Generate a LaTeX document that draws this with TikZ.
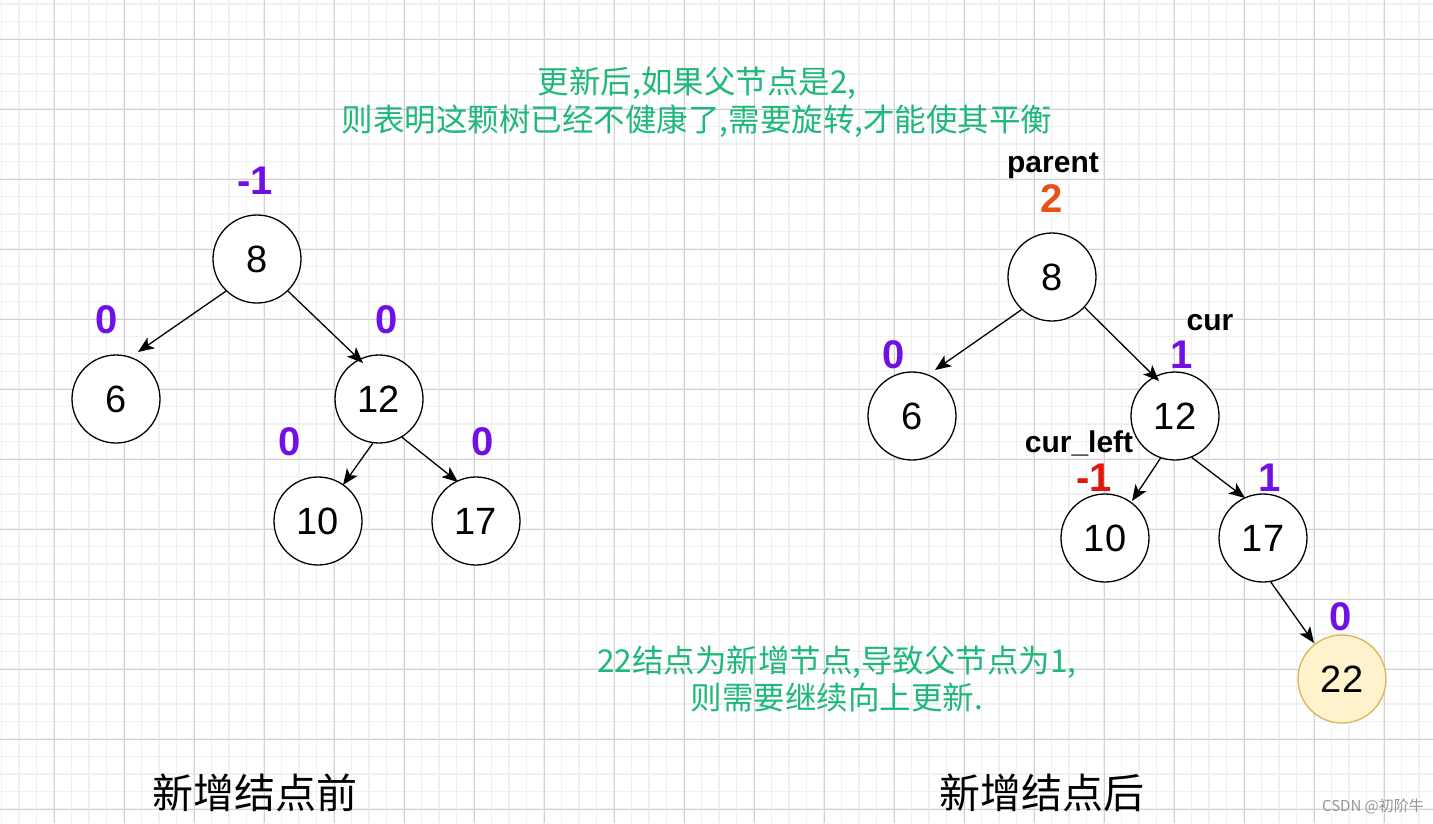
\documentclass[tikz,border=0pt]{standalone}
\usepackage{fontspec}
\setmainfont{Liberation Sans}
\newfontfamily\cjk{Noto Sans CJK SC}
\usetikzlibrary{arrows.meta}
\definecolor{lpurple}{RGB}{112,16,230}
\definecolor{lred}{RGB}{226,22,12}
\definecolor{lorange}{RGB}{230,82,22}
\definecolor{ngreen}{RGB}{30,184,122}
\definecolor{minorg}{RGB}{240,240,240}
\definecolor{majorg}{RGB}{210,210,210}
\definecolor{newfill}{RGB}{255,242,204}
\definecolor{newdraw}{RGB}{214,182,86}
\tikzset{
  tnode/.style={circle, draw, line width=1.3pt, fill=white, minimum size=88pt, inner sep=0pt, font=\fontsize{38}{44}\selectfont},
  arr/.style={line width=1.3pt, -{Stealth[length=16pt,width=13pt,inset=4pt]}},
  bal/.style={font=\fontsize{40}{46}\selectfont\bfseries, text=lpurple, inner sep=0pt},
  lab/.style={font=\fontsize{30}{36}\selectfont\bfseries, inner sep=0pt},
  note/.style={font=\cjk\fontsize{31.5}{38}\selectfont, text=ngreen, inner sep=0pt, anchor=base},
  ttl/.style={font=\cjk\fontsize{41}{48}\selectfont, inner sep=0pt, anchor=base},
  minorline/.style={draw=minorg, line width=1.2pt},
  majorline/.style={draw=majorg, line width=1pt}
}
\begin{document}
\begin{tikzpicture}[x=1pt,y=-1pt]
\path[use as bounding box, fill=white] (0,0) rectangle (1433,823);
\begin{scope}
\clip (0,0) rectangle (1433,823);
\foreach \i in {0,...,81} \draw[minorline] ({1.5+17.5*\i},0) -- ({1.5+17.5*\i},823);
\foreach \j in {0,...,46} \draw[minorline] (0,{4+17.5*\j}) -- (1433,{4+17.5*\j});
\foreach \i in {0,...,19} \draw[majorline] ({54+70*\i},0) -- ({54+70*\i},823);
\foreach \j in {0,...,11} \draw[majorline] (0,{39+70*\j}) -- (1433,{39+70*\j});
\end{scope}

% left tree
\node[tnode] (L8) at (257,259) {8};
\node[tnode] (L6) at (116,399) {6};
\node[tnode] (L12) at (379,399) {12};
\node[tnode] (L10) at (318,521) {10};
\node[tnode] (L17) at (476,521) {17};
\coordinate (la1) at (138,352);
\coordinate (la2) at (363,363);
\coordinate (la3) at (343,485);
\coordinate (la4) at (458,482);
\draw[arr] (L8.226) -- (la1);
\draw[arr] (L8.314) -- (la2);
\draw[arr] (L12.262) -- (la3);
\draw[arr] (L12.301) -- (la4);
\node[bal] (bl8) at (255,181) {-1};
\node[bal] (bl6) at (107,320) {0};
\node[bal] (bl12) at (387,320) {0};
\node[bal] (bl10) at (290,442) {0};
\node[bal] (bl17) at (483,442) {0};

% right tree
\node[tnode] (R8) at (1052,277) {8};
\node[tnode] (R6) at (912,416) {6};
\node[tnode] (R12) at (1175,416) {12};
\node[tnode] (R10) at (1105,538) {10};
\node[tnode] (R17) at (1263,538) {17};
\node[tnode, fill=newfill, draw=newdraw] (R22) at (1342,679) {22};
\coordinate (ra1) at (935,370);
\coordinate (ra2) at (1159,381);
\coordinate (ra3) at (1132,501);
\coordinate (ra4) at (1245,498);
\coordinate (ra5) at (1314,643);
\draw[arr] (R8.227) -- (ra1);
\draw[arr] (R8.317) -- (ra2);
\draw[arr] (R12.251) -- (ra3);
\draw[arr] (R12.292) -- (ra4);
\draw[arr] (R17.280) -- (ra5);
\node[lab, anchor=base] (lparent) at (1053,172) {parent};
\node[bal, text=lorange] (br8) at (1052,199) {2};
\node[bal] (br6) at (894,355) {0};
\node[lab, anchor=base] (lcur) at (1210,330) {cur};
\node[bal] (br12) at (1182,355) {1};
\node[lab, anchor=base] (lcurleft) at (1079,452) {cur\_left};
\node[bal, text=lred] (br10) at (1094,478) {-1};
\node[bal] (br17) at (1270,478) {1};
\node[bal] (br22) at (1341,617) {0};

% notes
\node[note] (n1) at (697,93) {更新后,如果父节点是2,};
\node[note] (n2) at (697,131) {则表明这颗树已经不健康了,需要旋转,才能使其平衡};
\node[note] (n3) at (837,672) {22结点为新增节点,导致父节点为1,};
\node[note] (n4) at (837,709) {则需要继续向上更新.};
\node[ttl] (t1) at (255,808) {新增结点前};
\node[ttl] (t2) at (1042,808) {新增结点后};
\node[font=\cjk\fontsize{15}{18}\selectfont, text={rgb,255:red,150;green,150;blue,150}, inner sep=0pt] (wm) at (1373,806) {CSDN @初阶牛};
\end{tikzpicture}
\end{document}
